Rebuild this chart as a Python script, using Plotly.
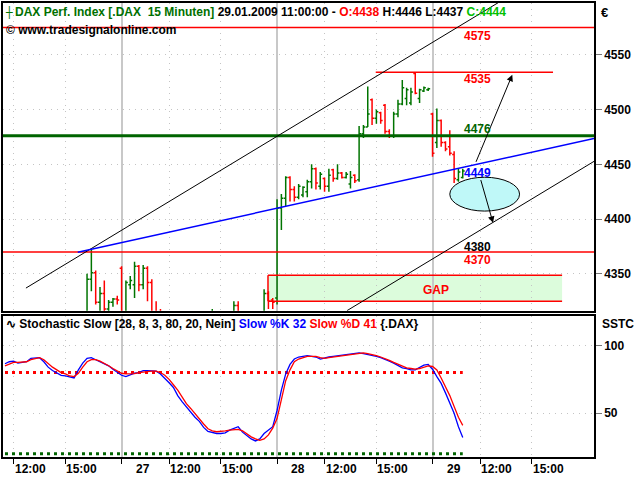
import plotly.graph_objects as go

# ---------------- data ----------------
# 15-minute bars, 36 bars per session: index 36 = session start 27.01., 72 = 28.01., 108 = 29.01.
bar_index = list(range(9, 116))

opens = [4300, 4304, 4307, 4305, 4306, 4309, 4311, 4313, 4312, 4308,
         4300, 4295, 4297, 4293, 4296, 4292, 4294, 4301, 4308, 4312,
         4345, 4351, 4324, 4332, 4318, 4324, 4327, 4355, 4315, 4340,
         4340, 4357, 4340, 4355, 4342, 4312, 4305, 4295, 4288, 4281,
         4275, 4270, 4273, 4265, 4262, 4266, 4272, 4283, 4298, 4312,
         4300, 4303, 4310, 4306, 4321, 4302, 4290, 4282, 4285, 4291,
         4306, 4332, 4326, 4328, 4410, 4419, 4438, 4427, 4420, 4422,
         4425, 4434, 4446, 4430, 4437, 4430, 4445, 4437, 4442, 4438,
         4432, 4440, 4436, 4478, 4484, 4509, 4492, 4497, 4504, 4480,
         4476, 4496, 4505, 4510, 4506, 4533, 4510, 4517, 4518, 4496,
         4470, 4490, 4470, 4466, 4459, 4436, 4438]
highs = [4306, 4309, 4310, 4308, 4310, 4312, 4314, 4314, 4314, 4309,
         4303, 4299, 4300, 4298, 4299, 4296, 4303, 4310, 4314, 4350,
         4372, 4353, 4338, 4344, 4326, 4328, 4330, 4357, 4344, 4348,
         4361, 4358, 4358, 4357, 4345, 4325, 4318, 4300, 4292, 4286,
         4279, 4276, 4277, 4270, 4268, 4275, 4285, 4300, 4318, 4314,
         4306, 4312, 4314, 4325, 4325, 4306, 4295, 4288, 4294, 4310,
         4336, 4334, 4328, 4418, 4423, 4439, 4439, 4430, 4432, 4430,
         4436, 4450, 4447, 4443, 4438, 4446, 4446, 4450, 4443, 4443,
         4444, 4441, 4485, 4486, 4521, 4510, 4500, 4498, 4505, 4482,
         4498, 4509, 4527, 4520, 4520, 4534, 4519, 4521, 4520, 4497,
         4501, 4491, 4471, 4481, 4462, 4446, 4446]
lows = [4296, 4301, 4303, 4300, 4304, 4306, 4308, 4309, 4306, 4298,
        4292, 4290, 4291, 4289, 4290, 4288, 4292, 4299, 4305, 4308,
        4334, 4322, 4312, 4310, 4312, 4320, 4322, 4308, 4305, 4336,
        4328, 4334, 4336, 4325, 4305, 4300, 4290, 4285, 4278, 4272,
        4266, 4264, 4262, 4258, 4256, 4262, 4270, 4281, 4295, 4296,
        4292, 4298, 4302, 4304, 4298, 4285, 4278, 4275, 4280, 4288,
        4302, 4318, 4318, 4322, 4390, 4412, 4416, 4416, 4418, 4420,
        4420, 4428, 4427, 4427, 4425, 4425, 4434, 4436, 4437, 4437,
        4428, 4433, 4434, 4474, 4484, 4486, 4487, 4487, 4478, 4474,
        4474, 4493, 4504, 4504, 4504, 4514, 4506, 4516, 4517, 4457,
        4465, 4466, 4462, 4458, 4433, 4434, 4437]
closes = [4304, 4307, 4305, 4306, 4309, 4311, 4313, 4312, 4308, 4300,
          4295, 4297, 4293, 4296, 4292, 4294, 4301, 4308, 4312, 4345,
          4351, 4324, 4332, 4318, 4324, 4327, 4326, 4315, 4342, 4344,
          4357, 4340, 4355, 4342, 4312, 4305, 4295, 4288, 4281, 4275,
          4270, 4273, 4265, 4262, 4266, 4272, 4283, 4298, 4312, 4300,
          4303, 4310, 4306, 4321, 4302, 4290, 4282, 4285, 4291, 4306,
          4332, 4325, 4324, 4410, 4419, 4438, 4427, 4420, 4430, 4429,
          4434, 4446, 4433, 4441, 4430, 4440, 4437, 4442, 4438, 4441,
          4438, 4435, 4478, 4484, 4496, 4492, 4498, 4490, 4480, 4476,
          4496, 4505, 4520, 4518, 4516, 4515, 4518, 4520, 4519, 4460,
          4490, 4470, 4464, 4460, 4437, 4443, 4444]

slow_k = [86.5, 88, 88.5, 87, 87.5, 88, 90.5, 91, 91, 88,
          84, 81.5, 79.5, 78, 77.5, 76.5, 76, 82, 87, 90.5,
          91, 89.5, 88, 86.5, 85, 82.5, 80, 78, 77, 78.5,
          79.5, 80, 81.5, 81.5, 81, 81, 79, 76, 72.5, 69,
          63, 58.5, 54.5, 51, 47, 44, 39.5, 36.5, 35.5, 35,
          35, 35.5, 37.5, 39, 40, 36, 33.5, 31, 29.5, 31,
          35, 37.5, 40, 52, 67, 79, 86, 90, 91.5, 92,
          92.5, 92, 91.5, 90, 91, 91.5, 92, 92.5, 93, 93.5,
          94, 94.5, 94.5, 94, 93.5, 93, 92, 91, 90, 88.5,
          87, 85, 83.5, 83, 82, 82, 83.5, 85.5, 86, 82.5,
          77, 72, 65, 58, 50, 40, 32]
slow_d = [85, 86.5, 87.5, 87.5, 87.5, 88, 89.5, 90.5, 91, 89.5,
          86.5, 84, 82, 80, 79, 77.5, 77, 79.5, 84, 88,
          89.5, 89.5, 88.5, 87, 85, 83, 81, 79.5, 79, 79,
          79.2, 80, 80.5, 81, 81, 81, 80, 78, 75, 71,
          67, 62, 57, 53.5, 49.5, 46, 42, 38.5, 37, 36.3,
          36.5, 37, 37.5, 38, 38, 37, 34.5, 32.5, 31, 30,
          31, 34, 39, 46, 60, 74, 82, 88, 90, 91,
          92, 92, 92, 91, 90.5, 91, 91.5, 92, 92.5, 93,
          93.5, 94, 94.5, 94.5, 94, 93.5, 92.5, 91.5, 90.5, 89,
          87.5, 86, 84.5, 83.5, 83, 82.5, 83, 84, 85, 84.5,
          82, 76, 70, 63, 55, 47, 41]

time_tick_pos = [11, 23, 47, 59, 83, 95, 119, 131]
time_tick_text = ["12:00", "15:00", "12:00", "15:00", "12:00", "15:00", "12:00", "15:00"]
day_tick_pos = [36, 72, 108]
day_tick_text = ["27", "28", "29"]

price_ticks = [4350, 4400, 4450, 4500, 4550]
stoch_ticks = [50, 100]
x_range = [8.54, 145.39]
price_range = [4316.4, 4597.3]
stoch_range = [17.65, 122.06]
stoch_levels = [80, 20]

# drawing tools (data coordinates: bar index / price)
red_levels = [4575, 4370]
green_level = 4476
resist_level = 4534
resist_span = [94.85, 135.9]
upper_channel = ([13.85, 123.5], [4337, 4598.3])
lower_channel = ([88.2, 145.39], [4316.4, 4452.7])
blue_trend = ([25.85, 145.39], [4369.8, 4473.6])
gap_box = ([69.9, 138.0], [4325, 4348.6])
ellipse_box = ([112.0, 128.15], [4407.3, 4438.2])
arrow_up = ([117.93, 4450.9], [126.47, 4531.8])     # tail, head
arrow_down = ([119.08, 4437.0], [122.01, 4396.6])
level_labels = ["4575", "4535", "4476", "4449", "4380", "4370"]
level_label_y = [4567.3, 4528.2, 4481.8, 4441.8, 4374.6, 4362.8]
level_label_col = ["#ff0000", "#ff0000", "#006400", "#0000ff", "#000000", "#ff0000"]
level_label_x = 114.92

FONT = "Liberation Sans, Arial, sans-serif"
GREEN = "#007400"

fig = go.Figure()

fig.add_trace(go.Ohlc(
    x=bar_index, open=opens, high=highs, low=lows, close=closes,
    xaxis="x2", yaxis="y",
    increasing=dict(line=dict(color=GREEN, width=1.5)),
    decreasing=dict(line=dict(color="#ff0000", width=1.5)),
    tickwidth=0.45, showlegend=False, hoverinfo="skip"))

for lvl, col in zip(stoch_levels, ["#ff0000", "#006400"]):
    fig.add_trace(go.Scatter(
        x=[bar_index[0], bar_index[-1]], y=[lvl, lvl], mode="lines",
        line=dict(color=col, width=3, dash="3px,4px"),
        xaxis="x", yaxis="y2", showlegend=False, hoverinfo="skip"))

fig.add_trace(go.Scatter(x=bar_index, y=slow_k, mode="lines",
                         line=dict(color="#0000ff", width=1.3),
                         xaxis="x", yaxis="y2", showlegend=False, hoverinfo="skip"))
fig.add_trace(go.Scatter(x=bar_index, y=slow_d, mode="lines",
                         line=dict(color="#ff0000", width=1.3),
                         xaxis="x", yaxis="y2", showlegend=False, hoverinfo="skip"))

shapes = []
# gap box
shapes.append(dict(type="rect", xref="x2", yref="y", x0=gap_box[0][0], x1=gap_box[0][1],
                   y0=gap_box[1][0], y1=gap_box[1][1], fillcolor="#dcfcdc",
                   line=dict(width=0), layer="below"))
for yv in gap_box[1]:
    shapes.append(dict(type="line", xref="x2", yref="y", x0=gap_box[0][0], x1=gap_box[0][1],
                       y0=yv, y1=yv, line=dict(color="#ff0000", width=1.5)))
shapes.append(dict(type="line", xref="x2", yref="y", x0=gap_box[0][0], x1=gap_box[0][0],
                   y0=gap_box[1][0], y1=gap_box[1][1], line=dict(color="#ff0000", width=1.5)))
for lvl in red_levels:
    shapes.append(dict(type="line", xref="x2 domain", yref="y", x0=0, x1=1, y0=lvl, y1=lvl,
                       line=dict(color="#ff0000", width=1.5)))
shapes.append(dict(type="line", xref="x2 domain", yref="y", x0=0, x1=1, y0=green_level,
                   y1=green_level, line=dict(color="#006400", width=3)))
shapes.append(dict(type="line", xref="x2", yref="y", x0=resist_span[0], x1=resist_span[1],
                   y0=resist_level, y1=resist_level, line=dict(color="#ff0000", width=1.5)))
for (xs, ys), col, w in [(upper_channel, "black", 1), (lower_channel, "black", 1),
                         (blue_trend, "#0000ff", 1.5)]:
    shapes.append(dict(type="line", xref="x2", yref="y", x0=xs[0], x1=xs[1], y0=ys[0], y1=ys[1],
                       line=dict(color=col, width=w)))
shapes.append(dict(type="circle", xref="x2", yref="y", x0=ellipse_box[0][0], x1=ellipse_box[0][1],
                   y0=ellipse_box[1][0], y1=ellipse_box[1][1], fillcolor="#bff8f8",
                   line=dict(color="black", width=1), layer="above"))

annotations = []
for (tail, head) in [arrow_up, arrow_down]:
    annotations.append(dict(x=head[0], y=head[1], ax=tail[0], ay=tail[1], xref="x2", yref="y",
                            axref="x2", ayref="y", showarrow=True, arrowhead=2, arrowsize=1.3,
                            arrowwidth=1, arrowcolor="black", text=""))
for txt, yv, col in zip(level_labels, level_label_y, level_label_col):
    annotations.append(dict(x=level_label_x, y=yv, xref="x2", yref="y", text=txt, showarrow=False,
                            xanchor="left", yanchor="middle",
                            font=dict(family=FONT, size=12, color=col, weight="bold")))
annotations.append(dict(x=108.7, y=4335.5, xref="x2", yref="y", text="GAP", showarrow=False,
                        font=dict(family=FONT, size=12, color="#ff0000", weight="bold")))

# header
annotations.append(dict(x=0.0, y=0.980, xref="paper", yref="paper", text="┼", showarrow=False,
                        xanchor="left", yanchor="middle",
                        font=dict(family="DejaVu Sans", size=11, color=GREEN)))
header = ("<span style='color:#007000'>DAX Perf. Index [.DAX\u00a0\u00a015 Minuten]</span> "
          "29.01.2009 11:00:00 - <span style='color:#ff0000'>O:4438</span> H:4446 L:4437 "
          "<span style='color:#00c000'>C:4444</span>")
annotations.append(dict(x=0.0165, y=0.980, xref="paper", yref="paper", text=header, showarrow=False,
                        xanchor="left", yanchor="middle",
                        font=dict(family=FONT, size=12, color="black", weight="bold")))
annotations.append(dict(x=0.0017, y=0.940, xref="paper", yref="paper",
                        text="© www.tradesignalonline.com", showarrow=False,
                        xanchor="left", yanchor="middle",
                        font=dict(family=FONT, size=12, color="black", weight="bold")))
annotations.append(dict(x=1.009, y=0.980, xref="paper", yref="paper", text="€", showarrow=False,
                        xanchor="left", yanchor="middle",
                        font=dict(family=FONT, size=13, color="black", weight="bold")))
stoch_title = ("∿ Stochastic Slow [28, 8, 3, 80, 20, Nein] "
               "<span style='color:#0000ff'>Slow %K 32</span> "
               "<span style='color:#ff0000'>Slow %D 41</span> {.DAX}")
annotations.append(dict(x=0.0017, y=0.2939, xref="paper", yref="paper", text=stoch_title,
                        showarrow=False, xanchor="left", yanchor="middle",
                        font=dict(family=FONT, size=12, color="black", weight="bold")))
annotations.append(dict(x=1.0101, y=0.2939, xref="paper", yref="paper", text="SSTC",
                        showarrow=False, xanchor="left", yanchor="middle",
                        font=dict(family=FONT, size=12, color="black", weight="bold")))
# time axis labels
for pos, txt in zip(time_tick_pos, time_tick_text):
    annotations.append(dict(x=pos, y=-0.0263, xref="x", yref="paper", text=txt, showarrow=False,
                            xanchor="left", yanchor="middle", xshift=-1,
                            font=dict(family=FONT, size=12, color="black", weight="bold")))
for pos, txt in zip(day_tick_pos, day_tick_text):
    annotations.append(dict(x=pos, y=-0.0263, xref="x", yref="paper", text=txt, showarrow=False,
                            xanchor="center", yanchor="middle", xshift=21,
                            font=dict(family=FONT, size=12, color="black", weight="bold")))

grid_common = dict(tickmode="array", tickvals=time_tick_pos, ticktext=[""] * len(time_tick_pos),
                   showgrid=True, gridcolor="#c4c4c4", griddash="1px,5px", gridwidth=1,
                   zeroline=False, showline=True, linecolor="black", linewidth=1.5, mirror=True,
                   range=x_range)

fig.update_layout(
    width=640, height=480, margin=dict(l=1, r=46, t=1, b=23),
    paper_bgcolor="white", plot_bgcolor="white", showlegend=False,
    xaxis=dict(domain=[0, 1], anchor="y2", ticks="outside", ticklen=5, tickcolor="black",
               minor=dict(tickmode="array", tickvals=day_tick_pos, ticks="outside", ticklen=5,
                          tickcolor="black", showgrid=True, gridcolor="#c8c8c8",
                          griddash="solid", gridwidth=1.5),
               **grid_common),
    xaxis2=dict(domain=[0, 1], anchor="y", matches="x", ticks="", showticklabels=False,
                rangeslider=dict(visible=False),
                minor=dict(tickmode="array", tickvals=day_tick_pos, ticks="", showgrid=True,
                           gridcolor="#c8c8c8", griddash="solid", gridwidth=1.5),
                **grid_common),
    yaxis=dict(domain=[0.3224, 1], anchor="x2", side="right", range=price_range,
               tickmode="array", tickvals=price_ticks, ticks="outside", ticklen=6,
               tickcolor="#777777", tickfont=dict(family=FONT, size=12, color="black", weight="bold"),
               showgrid=True, gridcolor="#c4c4c4", griddash="1px,5px", zeroline=False,
               showline=True, linecolor="black", linewidth=1.5, mirror=True),
    yaxis2=dict(domain=[0, 0.3114], anchor="x", side="right", range=stoch_range,
                tickmode="array", tickvals=stoch_ticks, ticks="outside", ticklen=6,
                tickcolor="#777777", tickfont=dict(family=FONT, size=12, color="black", weight="bold"),
                showgrid=True, gridcolor="#c4c4c4", griddash="1px,5px", zeroline=False,
                showline=True, linecolor="black", linewidth=1.5, mirror=True),
    shapes=shapes, annotations=annotations,
)

fig.write_html("out.html", config={"displayModeBar": False},
               post_script="document.body.style.margin='0';document.body.style.overflow='hidden';")
